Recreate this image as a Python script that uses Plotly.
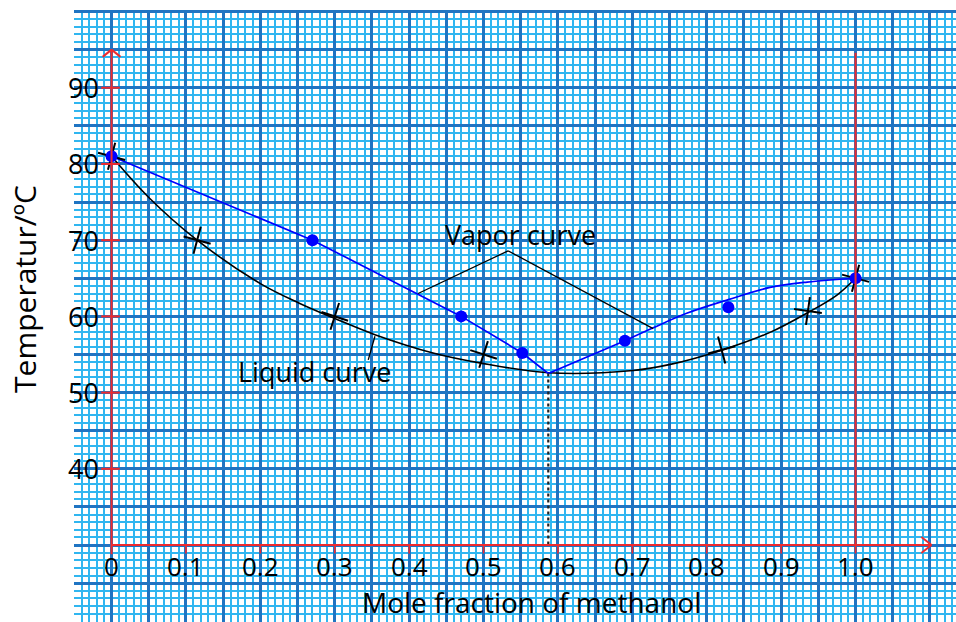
import plotly.graph_objects as go

# ---------------- data ----------------
# liquid composition measurements (crosses)
liquid_x = [0.0, 0.115, 0.30, 0.50, 0.82, 0.936, 1.0]
liquid_t = [81.0, 70.0, 60.0, 55.0, 55.6, 60.7, 65.0]
# vapor composition measurements (dots)
vapor_x = [0.0, 0.27, 0.47, 0.552, 0.69, 0.829, 1.0]
vapor_t = [81.0, 70.0, 60.0, 55.2, 56.8, 61.2, 65.0]
# hand-drawn liquid curve
liquid_curve_x = [0.0, 0.05, 0.115, 0.200, 0.253, 0.303, 0.354, 0.432, 0.495,
                  0.587, 0.701, 0.751, 0.818, 0.885, 0.936, 0.975, 1.0]
liquid_curve_t = [81.0, 75.6, 70.0, 64.3, 61.7, 59.6, 57.6, 55.2, 53.9,
                  52.6, 52.9, 53.7, 55.5, 57.9, 60.5, 62.8, 65.0]
# hand-drawn vapor curve (straight part, then smooth part)
vapor_left_x = [0.0, 0.27, 0.47, 0.552, 0.587, 0.69]
vapor_left_t = [81.0, 70.0, 60.0, 55.2, 52.5, 56.8]
vapor_right_x = [0.69, 0.728, 0.773, 0.829, 0.885, 0.935, 1.0]
vapor_right_t = [56.8, 58.5, 60.4, 62.2, 63.8, 64.5, 65.0]
# azeotrope
azeo_x = 0.587
azeo_t = 52.5

x_ticks = [0.0, 0.1, 0.2, 0.3, 0.4, 0.5, 0.6, 0.7, 0.8, 0.9, 1.0]
x_tick_labels = ["0", "0.1", "0.2", "0.3", "0.4", "0.5", "0.6", "0.7", "0.8", "0.9", "1.0"]
y_ticks = [40, 50, 60, 70, 80, 90]
y_tick_labels = ["40", "50", "60", "70", "80", "90"]

x_title = "Mole fraction of methanol"
y_title = "Temperatur/ºC"
vapor_label = "Vapor curve"
liquid_label = "Liquid curve"

# ---------------- styles ----------------
FONT = "Open Sans"
RED = "#ee2b2e"
DARK = "#1f74c2"
LIGHT = "#30b6f0"
BLUE = "#0000ff"
cross_angles = [15, 15, 18, 18, -15, 8, 15]

X0, X1 = -0.0505, 1.135
Y0, Y1 = 19.9, 100.2
AX_T0 = 30          # temperature at which the x axis is drawn
Y_AX_TOP = 95.0
X_AX_END = 1.102

fig = go.Figure()

fig.add_trace(go.Scatter(x=liquid_curve_x, y=liquid_curve_t, mode="lines",
                         line=dict(color="black", width=1.6, shape="spline", smoothing=1.0),
                         hoverinfo="skip", showlegend=False))
fig.add_trace(go.Scatter(x=vapor_left_x, y=vapor_left_t, mode="lines",
                         line=dict(color=BLUE, width=1.7),
                         hoverinfo="skip", showlegend=False))
fig.add_trace(go.Scatter(x=vapor_right_x, y=vapor_right_t, mode="lines",
                         line=dict(color=BLUE, width=1.7, shape="spline", smoothing=1.0),
                         hoverinfo="skip", showlegend=False))
fig.add_trace(go.Scatter(x=[azeo_x, azeo_x], y=[azeo_t, AX_T0], mode="lines",
                         line=dict(color="#222222", width=2.2, dash="dot"),
                         hoverinfo="skip", showlegend=False))
fig.add_trace(go.Scatter(x=liquid_x, y=liquid_t, mode="markers",
                         marker=dict(symbol="cross-thin", size=20, angle=cross_angles,
                                     line=dict(color="black", width=2)),
                         hoverinfo="skip", showlegend=False))
fig.add_trace(go.Scatter(x=vapor_x, y=vapor_t, mode="markers",
                         marker=dict(symbol="circle", size=12, color=BLUE),
                         hoverinfo="skip", showlegend=False))

shapes = []
def seg(xa, ya, xb, yb, color, width):
    shapes.append(dict(type="line", xref="x", yref="y", x0=xa, y0=ya, x1=xb, y1=yb,
                       line=dict(color=color, width=width), layer="above"))

# red axes
seg(0, 28.8, 0, Y_AX_TOP, RED, 2)
seg(0, Y_AX_TOP, -0.012, Y_AX_TOP - 0.95, RED, 2)
seg(0, Y_AX_TOP, 0.012, Y_AX_TOP - 0.95, RED, 2)
seg(0, AX_T0, X_AX_END, AX_T0, RED, 2)
seg(X_AX_END, AX_T0, X_AX_END - 0.0135, AX_T0 + 1.05, RED, 2)
seg(X_AX_END, AX_T0, X_AX_END - 0.0135, AX_T0 - 1.05, RED, 2)
seg(1.0, AX_T0, 1.0, 94.6, RED, 2)
for t in y_ticks:
    seg(-0.014, t, 0.011, t, RED, 2)
for xv in x_ticks[1:]:
    seg(xv, AX_T0, xv, AX_T0 - 1.1, RED, 1.6)

# leader lines
seg(0.412, 63.0, 0.533, 68.6, "black", 1.3)
seg(0.533, 68.6, 0.728, 58.4, "black", 1.3)
seg(0.354, 57.4, 0.345, 54.3, "black", 1.3)

annotations = []
for t, lab in zip(y_ticks, y_tick_labels):
    annotations.append(dict(x=-0.0145, y=t, xref="x", yref="y", text=lab, showarrow=False,
                            xanchor="right", yanchor="middle",
                            font=dict(family=FONT, size=27, color="black")))
for xv, lab in zip(x_ticks, x_tick_labels):
    annotations.append(dict(x=xv, y=27.2, xref="x", yref="y", text=lab, showarrow=False,
                            xanchor="center", yanchor="middle", borderpad=0,
                            font=dict(family=FONT, size=26, color="black")))
annotations.append(dict(x=0.565, y=0, xref="x", yref="paper", text=x_title, showarrow=False,
                        xanchor="center", yanchor="bottom", borderpad=0,
                        font=dict(family=FONT, size=28, color="black")))
annotations.append(dict(x=-0.0556, y=63.6, xref="paper", yref="y", text=y_title, showarrow=False,
                        textangle=-90, xanchor="center", yanchor="middle",
                        font=dict(family=FONT, size=30, color="black")))
annotations.append(dict(x=0.55, y=70.7, xref="x", yref="y", text=vapor_label, showarrow=False,
                        xanchor="center", yanchor="middle",
                        font=dict(family=FONT, size=27, color="black")))
annotations.append(dict(x=0.273, y=52.8, xref="x", yref="y", text=liquid_label, showarrow=False,
                        xanchor="center", yanchor="middle",
                        font=dict(family=FONT, size=27, color="black")))

axis_common = dict(showticklabels=False, ticks="", zeroline=False, showline=False,
                   showgrid=True, gridcolor=DARK, gridwidth=3, layer="below traces",
                   fixedrange=True)
fig.update_layout(
    width=956, height=622, autosize=False,
    margin=dict(l=74, r=0, t=10, b=0),
    paper_bgcolor="white", plot_bgcolor="white",
    xaxis=dict(range=[X0, X1], tick0=0, dtick=0.05,
               minor=dict(dtick=0.01, showgrid=True, gridcolor=LIGHT, gridwidth=2),
               **axis_common),
    yaxis=dict(range=[Y0, Y1], tick0=0, dtick=5,
               minor=dict(dtick=1, showgrid=True, gridcolor=LIGHT, gridwidth=2),
               **axis_common),
    shapes=shapes, annotations=annotations, showlegend=False,
)

fig.write_html("out.html", config={"displayModeBar": False},
               post_script="document.body.style.margin='0px';document.body.style.overflow='hidden';")
